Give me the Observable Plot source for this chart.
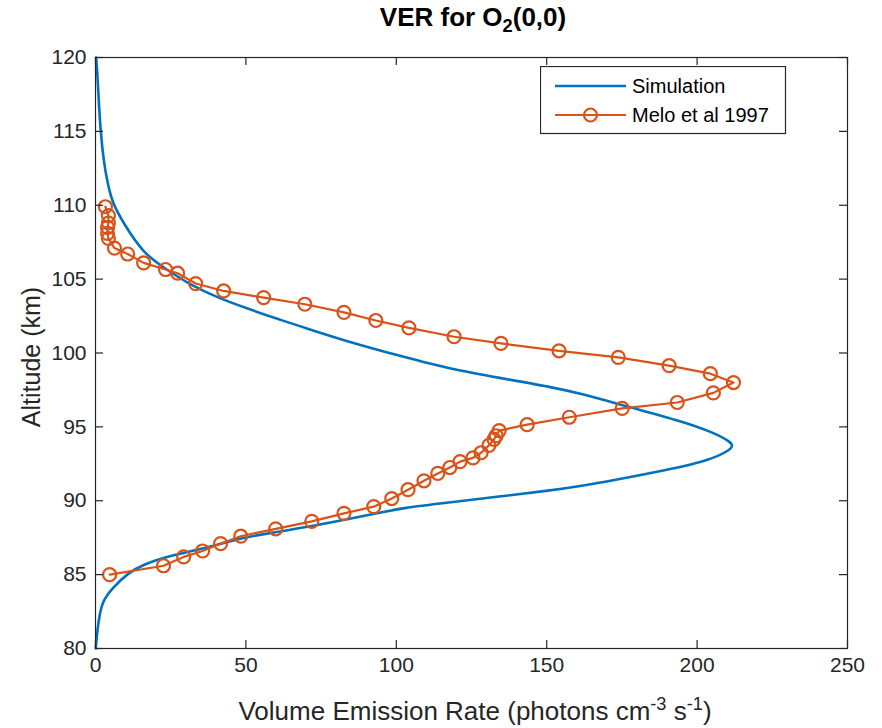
<!DOCTYPE html>
<html>
<head>
<meta charset="utf-8">
<script src="https://cdn.jsdelivr.net/npm/d3@7"></script>
<script src="https://cdn.jsdelivr.net/npm/@observablehq/plot@0.6"></script>
<style>
  body { margin: 0; background: #fff; font-family: "Liberation Sans", Arial, Helvetica, sans-serif; }
  #wrap { position: relative; width: 882px; height: 728px; overflow: hidden; }
  #chart { position: absolute; left: 0; top: 0; }
  .title { position: absolute; left: 95px; width: 756px; top: 4px; text-align: center;
           font-size: 26px; font-weight: bold; line-height: 1; color: #000; white-space: nowrap; }
  .xlabel { position: absolute; left: 95px; width: 760px; top: 698px; text-align: center;
            font-size: 26px; line-height: 1; color: #262626; white-space: nowrap; }
  .ylabel { position: absolute; left: 31px; top: 357px; transform: translate(-50%, -50%) rotate(-90deg);
            font-size: 25px; line-height: 1; color: #262626; white-space: nowrap; }
  .sub { font-size: 0.7em; position: relative; top: 0.35em; }
  .sup { font-size: 0.7em; position: relative; top: -0.55em; }
  #legend { position: absolute; left: 540px; top: 66px; }
</style>
</head>
<body>
<div id="wrap">
  <div id="chart"></div>
  <div class="title">VER for O<span class="sub">2</span>(0,0)</div>
  <div class="xlabel">Volume Emission Rate (photons cm<span class="sup">-3</span> s<span class="sup">-1</span>)</div>
  <div class="ylabel">Altitude (km)</div>
  <svg id="legend" width="247" height="69"></svg>
</div>
<script>
// ---- Data ----
const xTicks = [0, 50, 100, 150, 200, 250];
const yTicks = [80, 85, 90, 95, 100, 105, 110, 115, 120];
const seriesNames = ["Simulation", "Melo et al 1997"];

// Simulation profile (altitude km, VER)
const simAltitude = [80, 80.55, 81.9, 83.25, 84.1, 85.1, 85.7, 86.3, 86.75, 87.5, 87.85, 88.3, 89.1, 89.5, 89.9, 90.3, 90.7, 91.0, 91.4, 92.05, 92.7, 93.4, 93.7, 93.95, 94.6, 95.4, 96.3, 97.25, 97.7, 98.3, 98.9, 99.8, 100.7, 101.8, 102.3, 103.0, 103.75, 104.6, 105.6, 106.7, 108.8, 110.1, 111.5, 113, 115, 117, 119, 120];
const simVER      = [0.1, 0.3, 1.0, 2.3, 5.7, 10.7, 16.0, 25.0, 36.0, 48.3, 59.3, 72.6, 92.5, 101.5, 118.2, 134.8, 151.5, 161.5, 172.4, 189.1, 203.7, 210.7, 211.8, 211.4, 205.7, 194.7, 178.1, 161.5, 151.5, 134.8, 118.2, 101.5, 84.9, 68.2, 60.6, 50.6, 40.6, 31.6, 24.0, 16.0, 9.3, 5.7, 4.0, 2.7, 1.7, 1.1, 0.6, 0.2];

// Melo et al 1997 measurements, in profile order
const meloAltitude = [109.9, 109.3, 108.8, 108.5, 108.1, 107.75, 107.1, 106.7, 106.1, 105.65, 105.4, 104.7, 104.2, 103.75, 103.3, 102.75, 102.2, 101.7, 101.1, 100.65, 100.15, 99.7, 99.15, 98.6, 98.0, 97.3, 96.65, 96.25, 95.65, 95.15, 94.75, 94.4, 94.15, 93.75, 93.25, 92.9, 92.65, 92.25, 91.85, 91.35, 90.75, 90.15, 89.6, 89.15, 88.6, 88.1, 87.6, 87.1, 86.6, 86.2, 85.6, 85.0];
const meloVER      = [3.3, 4.3, 4.3, 4.0, 4.0, 4.3, 6.3, 10.7, 16.0, 23.3, 27.3, 33.3, 42.6, 55.9, 69.6, 82.6, 93.2, 104.2, 119.2, 134.8, 154.1, 173.8, 190.7, 204.4, 212.1, 205.4, 193.4, 175.1, 157.5, 143.5, 134.2, 133.2, 132.5, 130.8, 128.2, 125.5, 121.2, 117.8, 113.8, 109.2, 103.9, 98.5, 92.5, 82.6, 71.9, 59.9, 48.3, 41.6, 35.6, 29.3, 22.6, 4.7];

const blue = "#0072BD", orange = "#D95319", axisColor = "#262626";

const W = 882, H = 728, mT = 57, mB = 80, mL = 95, mR = 35, tick = 8;
const innerW = W - mL - mR, innerH = H - mT - mB;

const sim = simAltitude.map((a, i) => ({alt: a, ver: simVER[i]}));
const melo = meloAltitude.map((a, i) => ({alt: a, ver: meloVER[i]}));

const chart = Plot.plot({
  width: W,
  height: H,
  marginTop: mT,
  marginBottom: mB,
  marginLeft: mL,
  marginRight: mR,
  style: {fontFamily: '"Liberation Sans", Arial, Helvetica, sans-serif', fontSize: "21px", color: axisColor, background: "transparent", overflow: "visible"},
  x: {domain: [0, 250], label: null},
  y: {domain: [80, 120], label: null},
  marks: [
    Plot.line(sim, {x: "ver", y: "alt", stroke: blue, strokeWidth: 2.6, curve: "basis"}),
    Plot.line(melo, {x: "ver", y: "alt", stroke: orange, strokeWidth: 2.2}),
    Plot.dot(melo, {x: "ver", y: "alt", r: 6.5, stroke: orange, strokeWidth: 2.2, fill: "none"}),
    // inward tick marks on all four sides
    Plot.tickX(xTicks, {x: d => d, insetTop: innerH - tick, stroke: axisColor, strokeWidth: 1.2}),
    Plot.tickX(xTicks, {x: d => d, insetBottom: innerH - tick, stroke: axisColor, strokeWidth: 1.2}),
    Plot.tickY(yTicks, {y: d => d, insetRight: innerW - tick, stroke: axisColor, strokeWidth: 1.2}),
    Plot.tickY(yTicks, {y: d => d, insetLeft: innerW - tick, stroke: axisColor, strokeWidth: 1.2}),
    Plot.frame({stroke: axisColor, strokeWidth: 1.2}),
    // tick labels
    Plot.axisX(xTicks, {anchor: "bottom", tickSize: 0, tickPadding: 9, label: null, fill: axisColor}),
    Plot.axisY(yTicks, {anchor: "left", tickSize: 0, tickPadding: 9, label: null, fill: axisColor})
  ]
});
document.getElementById("chart").appendChild(chart);

// ---- Legend ----
const lg = d3.select("#legend");
lg.append("rect").attr("x", 0.5).attr("y", 0.5).attr("width", 245).attr("height", 67)
  .attr("fill", "white").attr("stroke", axisColor).attr("stroke-width", 1.2);
const rows = [{name: seriesNames[0], color: blue, marker: false, y: 20},
              {name: seriesNames[1], color: orange, marker: true, y: 49}];
rows.forEach(r => {
  lg.append("line").attr("x1", 15).attr("x2", 86).attr("y1", r.y).attr("y2", r.y)
    .attr("stroke", r.color).attr("stroke-width", r.marker ? 2.2 : 2.6);
  if (r.marker) lg.append("circle").attr("cx", 50.5).attr("cy", r.y).attr("r", 6.5)
    .attr("fill", "none").attr("stroke", r.color).attr("stroke-width", 2.2);
  lg.append("text").attr("x", 92).attr("y", r.y).attr("dy", "0.35em")
    .attr("font-family", '"Liberation Sans", Arial, sans-serif').attr("font-size", 20)
    .attr("fill", "#000").text(r.name);
});
</script>
</body>
</html>
